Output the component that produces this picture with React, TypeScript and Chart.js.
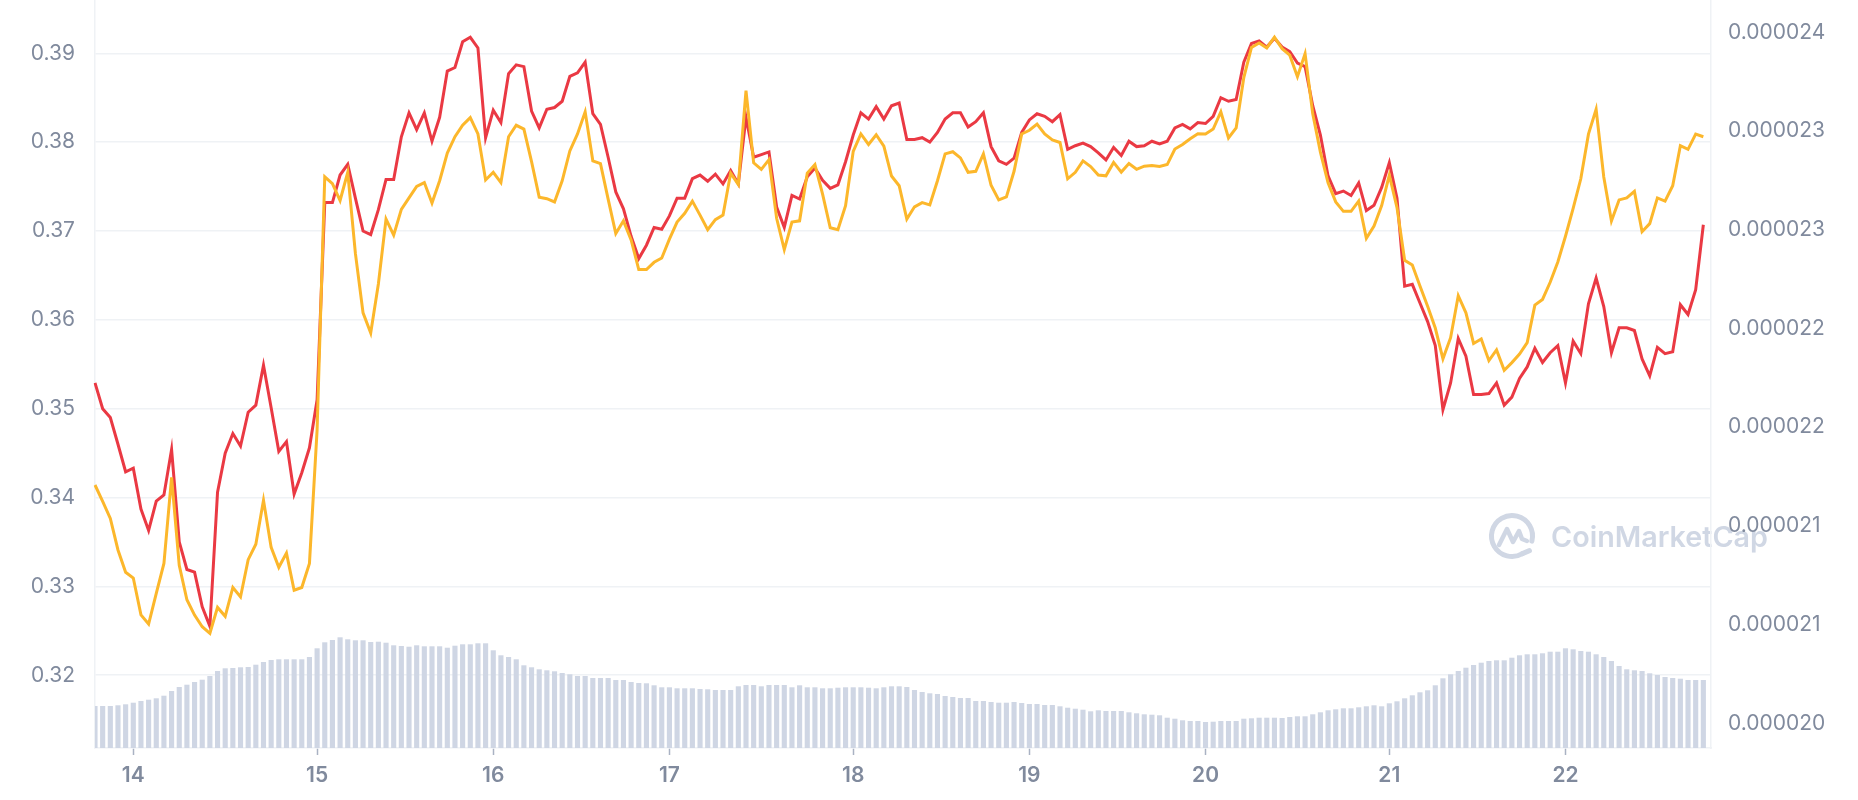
import React, { useEffect, useRef } from 'react';
import { Chart, registerables } from 'chart.js';

Chart.register(...registerables);

// Hourly USD price (left axis)
const usdPrice = [
  0.3529, 0.3500, 0.3490, 0.3460, 0.3429, 0.3433, 0.3387, 0.3363, 0.3396, 0.3403,
  0.3454, 0.3350, 0.3319, 0.3316, 0.3277, 0.3255, 0.3406, 0.3450, 0.3472, 0.3458,
  0.3496, 0.3504, 0.3549, 0.3501, 0.3452, 0.3463, 0.3404, 0.3428, 0.3456, 0.3510,
  0.3732, 0.3732, 0.3763, 0.3775, 0.3737, 0.3700, 0.3696, 0.3724, 0.3758, 0.3758,
  0.3806, 0.3833, 0.3814, 0.3833, 0.3801, 0.3828, 0.3880, 0.3884, 0.3913, 0.3918,
  0.3906, 0.3805, 0.3836, 0.3822, 0.3877, 0.3887, 0.3885, 0.3835, 0.3816, 0.3837,
  0.3839, 0.3846, 0.3874, 0.3878, 0.3890, 0.3832, 0.3820, 0.3783, 0.3744, 0.3725,
  0.3694, 0.3669, 0.3684, 0.3704, 0.3702, 0.3717, 0.3737, 0.3737, 0.3759, 0.3763,
  0.3756, 0.3764, 0.3753, 0.3768, 0.3753, 0.3828, 0.3783, 0.3786, 0.3789, 0.3727,
  0.3704, 0.3740, 0.3736, 0.3761, 0.3771, 0.3757, 0.3748, 0.3752, 0.3778, 0.3808,
  0.3833, 0.3826, 0.3840, 0.3826, 0.3841, 0.3844, 0.3803, 0.3803, 0.3805, 0.3800,
  0.3811, 0.3826, 0.3833, 0.3833, 0.3817, 0.3823, 0.3833, 0.3795, 0.3779, 0.3775,
  0.3782, 0.3811, 0.3825, 0.3832, 0.3829, 0.3823, 0.3831, 0.3792, 0.3796, 0.3799,
  0.3795, 0.3788, 0.3780, 0.3794, 0.3785, 0.3801, 0.3795, 0.3796, 0.3801, 0.3798,
  0.3801, 0.3816, 0.3820, 0.3815, 0.3822, 0.3821, 0.3829, 0.3850, 0.3846, 0.3848,
  0.3890, 0.3911, 0.3914, 0.3907, 0.3917, 0.3907, 0.3902, 0.3889, 0.3885, 0.3841,
  0.3808, 0.3762, 0.3742, 0.3745, 0.3740, 0.3754, 0.3723, 0.3729, 0.3749, 0.3777,
  0.3737, 0.3638, 0.3640, 0.3619, 0.3598, 0.3571, 0.3499, 0.3529, 0.3579, 0.3559,
  0.3516, 0.3516, 0.3517, 0.3529, 0.3504, 0.3513, 0.3534, 0.3547, 0.3568, 0.3552,
  0.3563, 0.3571, 0.3529, 0.3576, 0.3562, 0.3618, 0.3647, 0.3615, 0.3563, 0.3591,
  0.3591, 0.3588, 0.3556, 0.3537, 0.3569, 0.3562, 0.3564, 0.3617, 0.3606, 0.3634,
  0.3707,
];

// Hourly BTC price in micro-BTC (right axis)
const btcPriceMicro = [
  21.707, 21.624, 21.538, 21.378, 21.265, 21.236, 21.049, 21.003, 21.158, 21.310,
  21.746, 21.300, 21.126, 21.048, 20.989, 20.956, 21.087, 21.042, 21.188, 21.140,
  21.329, 21.407, 21.630, 21.391, 21.290, 21.362, 21.174, 21.188, 21.310, 21.986,
  23.268, 23.233, 23.148, 23.291, 22.880, 22.579, 22.477, 22.725, 23.054, 22.973,
  23.103, 23.161, 23.219, 23.239, 23.135, 23.248, 23.388, 23.471, 23.529, 23.568,
  23.485, 23.252, 23.291, 23.239, 23.471, 23.529, 23.510, 23.345, 23.165, 23.157,
  23.141, 23.248, 23.399, 23.485, 23.597, 23.349, 23.335, 23.155, 22.981, 23.045,
  22.948, 22.798, 22.798, 22.835, 22.857, 22.952, 23.039, 23.083, 23.145, 23.074,
  23.000, 23.051, 23.074, 23.287, 23.229, 23.704, 23.339, 23.306, 23.355, 23.058,
  22.899, 23.039, 23.045, 23.287, 23.330, 23.180, 23.010, 23.000, 23.122, 23.397,
  23.485, 23.432, 23.481, 23.423, 23.272, 23.223, 23.054, 23.116, 23.137, 23.126,
  23.248, 23.384, 23.395, 23.364, 23.291, 23.296, 23.384, 23.225, 23.151, 23.166,
  23.296, 23.485, 23.504, 23.535, 23.485, 23.455, 23.442, 23.258, 23.291, 23.349,
  23.320, 23.277, 23.273, 23.341, 23.292, 23.335, 23.306, 23.322, 23.325, 23.320,
  23.330, 23.409, 23.432, 23.461, 23.486, 23.485, 23.510, 23.597, 23.465, 23.516,
  23.771, 23.923, 23.946, 23.921, 23.975, 23.917, 23.884, 23.775, 23.892, 23.587,
  23.393, 23.238, 23.141, 23.093, 23.093, 23.145, 22.957, 23.019, 23.122, 23.277,
  23.112, 22.845, 22.821, 22.715, 22.612, 22.502, 22.346, 22.453, 22.666, 22.579,
  22.424, 22.447, 22.337, 22.391, 22.288, 22.327, 22.370, 22.428, 22.618, 22.647,
  22.734, 22.837, 22.967, 23.108, 23.258, 23.484, 23.610, 23.267, 23.044, 23.151,
  23.161, 23.194, 22.990, 23.031, 23.161, 23.145, 23.223, 23.426, 23.407, 23.484,
  23.471,
];

// Hourly volume (relative units)
const volume = [
  42, 42, 42, 42.7, 43.7, 45.3, 47, 48.3, 49.7, 52.3,
  57, 61, 63.3, 66, 68.3, 72, 77, 79.7, 80, 80.7,
  81, 83.3, 86, 88, 88.7, 88.7, 88.7, 88.7, 91, 99.7,
  105.7, 108, 110.7, 108.7, 107.7, 107.7, 106, 106.3, 105.3, 102.7,
  102, 101.3, 102.7, 101.7, 101.7, 101.7, 100.3, 102.3, 103.7, 103.7,
  104.7, 104.7, 97.7, 92.7, 91, 88.7, 82.7, 80.7, 78.7, 77.7,
  76.7, 75, 73.7, 72, 72, 70, 70, 70, 68, 68,
  66, 65, 64.7, 62.7, 60.7, 60.7, 59.7, 59.7, 59.7, 59,
  58.7, 58, 58, 58, 61.7, 63, 63, 61.7, 63, 63,
  63, 60.7, 62.7, 60.7, 60.7, 59.7, 59.7, 60.3, 60.7, 60.7,
  60.7, 60.3, 59.7, 60.7, 61.7, 61.7, 61, 58, 56, 54.7,
  54, 52, 51, 50, 50, 47, 47, 46, 45.3, 45.3,
  46, 45, 44, 44, 43, 43, 41.7, 40.3, 39.3, 38.3,
  36.7, 37.7, 37, 37, 37, 35.7, 34.7, 33.7, 33.3, 32.7,
  30.3, 29.3, 27.7, 27, 27, 26, 26.3, 27, 27, 27,
  29.3, 29.7, 30.3, 30.3, 30.3, 30, 31, 31.7, 31.7, 33.7,
  35.7, 37.7, 38.7, 39.7, 39.7, 40.7, 41.7, 42.7, 41.7, 44.7,
  46.7, 49.7, 52.7, 55.7, 57.7, 62.7, 69.7, 73.7, 77, 80.3,
  83, 85.3, 87, 87.7, 87.7, 90.3, 92.7, 93.7, 93.7, 94.7,
  96.3, 96.3, 99.7, 98.7, 97, 96.3, 93.7, 91, 87, 82,
  78.7, 77.7, 77, 74.7, 73, 71, 70, 69.3, 68, 68,
  68,
];

const slotCount = 212;
const dayTickIndex = [5, 29, 52, 75, 99, 122, 145, 169, 192];
const dayTickLabels = ['14', '15', '16', '17', '18', '19', '20', '21', '22'];
const usdTicks = [0.32, 0.33, 0.34, 0.35, 0.36, 0.37, 0.38, 0.39];
const btcTicks = [0.0000205, 0.000021, 0.0000215, 0.000022, 0.0000225, 0.000023, 0.0000235, 0.000024];
const btcTickLabels = ['0.000020', '0.000021', '0.000021', '0.000022', '0.000022', '0.000023', '0.000023', '0.000024'];

const TEXT = '#808A9D';
const GRID = '#EFF2F5';

const watermark = {
  id: 'cmcWatermark',
  beforeDraw(chart: any) {
    const { ctx, chartArea } = chart;
    const cx = chartArea.right - 199;
    const cy = chartArea.bottom - 212;
    const col = '#D0D7E4';
    ctx.save();
    ctx.strokeStyle = col;
    ctx.fillStyle = col;
    ctx.lineCap = 'round';
    ctx.lineJoin = 'round';
    ctx.lineWidth = 5;
    const r = 20.5;
    ctx.beginPath();
    ctx.arc(cx, cy, r, 0.33 * Math.PI, 2.08 * Math.PI, false);
    ctx.stroke();
    ctx.beginPath();
    ctx.moveTo(cx + r * Math.cos(0.33 * Math.PI), cy + r * Math.sin(0.33 * Math.PI));
    ctx.lineTo(cx + r * Math.cos(0.33 * Math.PI) + 7, cy + r * Math.sin(0.33 * Math.PI) - 3);
    ctx.stroke();
    ctx.lineWidth = 4.5;
    ctx.beginPath();
    ctx.moveTo(cx - 13, cy + 9);
    ctx.lineTo(cx - 5, cy - 7);
    ctx.lineTo(cx + 1, cy + 6);
    ctx.lineTo(cx + 7, cy - 5);
    ctx.lineTo(cx + 10, cy + 3);
    ctx.lineTo(cx + 15, cy + 5);
    ctx.stroke();
    ctx.font = '600 30px Inter';
    const w = ctx.measureText('CoinMarketCap').width;
    const size = 30 * 217 / w;
    ctx.font = `600 ${size}px Inter`;
    ctx.textBaseline = 'middle';
    ctx.textAlign = 'left';
    ctx.fillText('CoinMarketCap', cx + 39, cy + 2);
    ctx.restore();
  },
};

export default function App() {
  const ref = useRef<HTMLCanvasElement>(null);

  useEffect(() => {
    if (!ref.current) return;
    const labels = Array.from({ length: slotCount }, (_, i) => String(i));
    const chart = new Chart(ref.current, {
      type: 'line',
      data: {
        labels,
        datasets: [
          {
            type: 'line',
            label: 'Price (USD)',
            data: usdPrice,
            yAxisID: 'y',
            borderColor: '#EA3943',
            borderWidth: 3,
            pointRadius: 0,
            tension: 0,
            order: 2,
          },
          {
            type: 'line',
            label: 'Price (BTC)',
            data: btcPriceMicro.map((v) => v * 1e-6),
            yAxisID: 'y1',
            borderColor: '#FCB72B',
            borderWidth: 3,
            pointRadius: 0,
            tension: 0,
            order: 1,
          },
          {
            type: 'bar',
            label: 'Volume',
            data: volume,
            yAxisID: 'yVol',
            backgroundColor: '#CFD6E4',
            barPercentage: 0.67,
            categoryPercentage: 1,
            order: 3,
          },
        ],
      } as any,
      options: {
        responsive: false,
        animation: false,
        devicePixelRatio: 1,
        layout: { padding: 0 },
        plugins: { legend: { display: false }, tooltip: { enabled: false } },
        scales: {
          x: {
            type: 'category',
            offset: false,
            grid: {
              offset: false,
              drawOnChartArea: false,
              drawTicks: true,
              tickLength: 7,
              tickColor: '#A9B2C3',
              tickWidth: 1.5,
            },
            border: { display: true, color: GRID, width: 1.5 },
            ticks: {
              autoSkip: false,
              maxRotation: 0,
              padding: 8,
              color: TEXT,
              font: { family: 'Inter', size: 21, weight: '600' },
              callback: (v: any) => {
                const k = dayTickIndex.indexOf(Number(v));
                return k >= 0 ? dayTickLabels[k] : '';
              },
            },
            afterBuildTicks: (s: any) => {
              s.ticks = dayTickIndex.map((v) => ({ value: v }));
            },
            afterFit: (s: any) => {
              s.height = 52;
              s.paddingLeft = 0;
              s.paddingRight = 0;
            },
          },
          y: {
            type: 'linear',
            position: 'left',
            bounds: 'data',
            min: 0.31181,
            max: 0.396,
            grid: { color: GRID, lineWidth: 1.5, drawTicks: false },
            border: { display: true, color: GRID, width: 1.5 },
            ticks: {
              padding: 20,
              color: TEXT,
              font: { family: 'Inter', size: 21, weight: '400' },
              callback: (v: any) => Number(v).toFixed(2),
            },
            afterBuildTicks: (s: any) => {
              s.ticks = usdTicks.map((v) => ({ value: v }));
            },
            afterFit: (s: any) => {
              s.width = 95;
              s.paddingTop = 0;
              s.paddingBottom = 0;
            },
          },
          y1: {
            type: 'linear',
            position: 'right',
            bounds: 'data',
            min: 0.0000203749,
            max: 0.0000241636,
            grid: { display: false, drawTicks: false },
            border: { display: true, color: GRID, width: 1.5 },
            ticks: {
              padding: 17,
              color: TEXT,
              font: { family: 'Inter', size: 21, weight: '400' },
              callback: (_v: any, i: number) => btcTickLabels[i],
            },
            afterBuildTicks: (s: any) => {
              s.ticks = btcTicks.map((v) => ({ value: v }));
            },
            afterFit: (s: any) => {
              s.width = 147;
              s.paddingTop = 0;
              s.paddingBottom = 0;
            },
          },
          yVol: {
            type: 'linear',
            display: false,
            min: 0,
            max: 748,
          },
        },
      } as any,
      plugins: [watermark],
    });
    return () => chart.destroy();
  }, []);

  return (
    <div style={{ position: 'fixed', left: 0, top: 0, width: 1858, height: 800, background: '#fff' }}>
      <canvas ref={ref} width={1858} height={800} style={{ display: 'block' }} />
    </div>
  );
}
